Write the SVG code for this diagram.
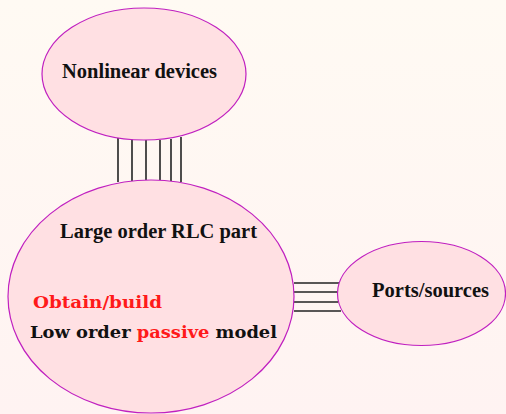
<svg xmlns="http://www.w3.org/2000/svg" width="506" height="414" viewBox="0 0 506 414">
<defs>
<linearGradient id="bg" x1="0" y1="0" x2="0" y2="1">
<stop offset="0" stop-color="#fffaf3"/>
<stop offset="1" stop-color="#fff3f2"/>
</linearGradient>
<style>
.node{fill:#ffe0e3;stroke:#c020c0;stroke-width:1.2}
.lbl{font-family:"Liberation Serif","Times New Roman",serif;font-weight:bold;fill:#111}
.cm{font-family:"DejaVu Serif","Liberation Serif",serif;font-weight:bold;fill:#111}
.red{fill:#ff1a1a}
.wire{stroke:#222;stroke-width:1.6}
</style>
</defs>
<rect width="506" height="414" fill="url(#bg)"/>
<g id="connectors">
<line class="wire" x1="118" y1="138" x2="118" y2="182"/>
<line class="wire" x1="132" y1="139" x2="132" y2="181"/>
<line class="wire" x1="146" y1="140" x2="146" y2="180"/>
<line class="wire" x1="160" y1="140" x2="160" y2="180"/>
<line class="wire" x1="171" y1="139" x2="171" y2="181"/>
<line class="wire" x1="181" y1="137" x2="181" y2="182"/>
<line class="wire" x1="294" y1="283" x2="339" y2="283"/>
<line class="wire" x1="294" y1="292" x2="337" y2="292"/>
<line class="wire" x1="294" y1="302" x2="338" y2="302"/>
<line class="wire" x1="294" y1="311" x2="341" y2="311"/>
</g>
<g id="nonlinear">
<ellipse class="node" cx="144" cy="74" rx="102" ry="66"/>
<text class="lbl" x="62" y="78" font-size="20" textLength="155" lengthAdjust="spacingAndGlyphs">Nonlinear devices</text>
</g>
<g id="rlc">
<ellipse class="node" cx="151" cy="296.5" rx="143" ry="116.5"/>
<text class="lbl" x="60" y="238" font-size="20" textLength="197" lengthAdjust="spacingAndGlyphs">Large order RLC part</text>
<text class="cm red" x="33" y="308" font-size="17" textLength="129" lengthAdjust="spacingAndGlyphs">Obtain/build</text>
<text class="cm" x="30" y="338" font-size="17" textLength="247" lengthAdjust="spacingAndGlyphs">Low order <tspan class="red">passive</tspan> model</text>
</g>
<g id="ports">
<ellipse class="node" cx="421.5" cy="293.5" rx="84" ry="52"/>
<text class="lbl" x="372" y="297" font-size="20" textLength="117" lengthAdjust="spacingAndGlyphs">Ports/sources</text>
</g>
</svg>
